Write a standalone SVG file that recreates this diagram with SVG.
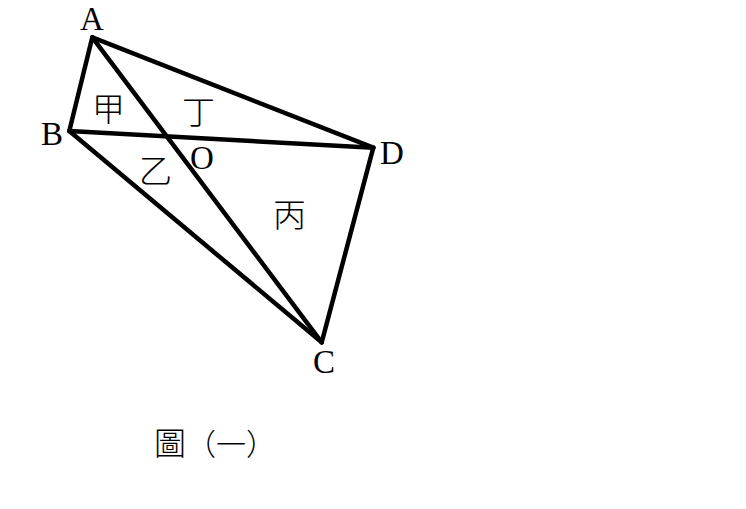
<svg xmlns="http://www.w3.org/2000/svg" width="746" height="509" viewBox="0 0 746 509">
<style>
.e{stroke:#000;stroke-width:4.5;stroke-linecap:round;stroke-linejoin:round;fill:none}
.l{font-family:"Liberation Serif","Times New Roman",serif;font-size:33px;fill:#000}
.c{font-family:"Noto Sans CJK TC","Noto Sans CJK SC",sans-serif;font-size:33px;font-weight:300;fill:#000}
</style>
<rect width="746" height="509" fill="#fff"/>
<g id="connectors">
<line class="e" x1="92.3" y1="37.3" x2="69.3" y2="131"/>
<line class="e" x1="92.3" y1="37.3" x2="373.3" y2="147.7"/>
<line class="e" x1="69.3" y1="131" x2="373.3" y2="147.7"/>
<line class="e" x1="92.3" y1="37.3" x2="321.7" y2="342.3"/>
<line class="e" x1="69.3" y1="131" x2="321.7" y2="342.3"/>
<line class="e" x1="373.3" y1="147.7" x2="321.7" y2="342.3"/>
</g>
<g id="A"><text class="l" x="80" y="30">A</text></g>
<g id="B"><text class="l" x="41" y="145">B</text></g>
<g id="O"><text class="l" x="190" y="169">O</text></g>
<g id="D"><text class="l" x="380" y="164">D</text></g>
<g id="C"><text class="l" x="313" y="373">C</text></g>
<g id="jia"><text class="c" x="92" y="121">甲</text></g>
<g id="ding"><text class="c" x="182" y="124">丁</text></g>
<g id="yi"><text class="c" x="139" y="183">乙</text></g>
<g id="bing"><text class="c" x="273" y="227">丙</text></g>
<g id="caption"><text class="c" x="154" y="455" style="font-size:32px">圖<tspan style="font-size:30px">（一）</tspan></text></g>
</svg>
